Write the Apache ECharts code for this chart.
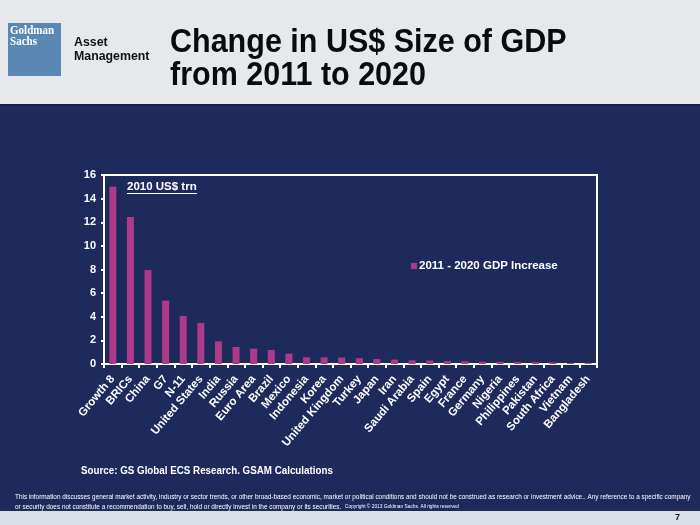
<!DOCTYPE html>
<html><head><meta charset="utf-8">
<script src="https://cdn.jsdelivr.net/npm/echarts@6/dist/echarts.min.js"></script>
<style>html,body{margin:0;padding:0;background:#1e2a5c}#c{width:700px;height:525px}</style>
</head><body><div id="c"></div>
<script>
const categories = ["Growth 8","BRICs","China","G7","N-11","United States","India","Russia","Euro Area","Brazil","Mexico","Indonesia","Korea","United Kingdom","Turkey","Japan","Iran","Saudi Arabia","Spain","Egypt","France","Germany","Nigeria","Philippines","Pakistan","South Africa","Vietnam","Bangladesh"];
const gdpIncrease = [15.0,12.45,7.95,5.37,4.07,3.47,1.92,1.44,1.3,1.19,0.87,0.57,0.56,0.55,0.5,0.42,0.37,0.31,0.3,0.24,0.23,0.19,0.18,0.17,0.16,0.14,0.08,0.07];
const yTicks = {min:0,max:16,interval:2};
const seriesName = "2011 - 2020 GDP Increase";

const chart = echarts.init(document.getElementById('c'));
const F = '"Liberation Sans", Arial, sans-serif';
chart.setOption({
  backgroundColor:'#1e2a5c',
  animation:false,
  textStyle:{fontFamily:F},
  graphic:[
    {type:'rect',shape:{x:0,y:0,width:700,height:104},style:{fill:'#e6e9ec'},z:-10},
    {type:'rect',shape:{x:0,y:104,width:700,height:2},style:{fill:'#16204a'},z:-9},
    {type:'rect',shape:{x:0,y:511,width:700,height:14},style:{fill:'#d9dfe6'},z:-10},
    {type:'rect',shape:{x:8,y:23,width:53,height:53},style:{fill:'#5b87b4'}},
    {type:'text',x:10,y:25,scaleX:0.85,style:{text:'Goldman\nSachs',fill:'#fff',font:'bold 13px "Liberation Serif", serif',lineHeight:11}},
    {type:'text',x:74,y:35,scaleX:0.95,style:{text:'Asset\nManagement',fill:'#111',font:'bold 13px '+F,lineHeight:14}},
    {type:'text',x:170,y:26,scaleY:1.07,style:{text:'Change in US$ Size of GDP\nfrom 2011 to 2020',fill:'#0b0b0b',font:'bold 30.5px '+F,lineHeight:31}},
    {type:'text',left:127,top:181,style:{text:'2010 US$ trn',fill:'#fff',font:'bold 11.5px '+F}},
    {type:'rect',shape:{x:127,y:193,width:70,height:1},style:{fill:'#fff'}},
    {type:'text',x:81,y:465,scaleX:0.89,style:{text:'Source: GS Global ECS Research. GSAM Calculations',fill:'#fff',font:'bold 11px '+F}},
    {type:'text',left:15,top:492,style:{text:'This information discusses general market activity, industry or sector trends, or other broad-based economic, market or political conditions and should not be construed as research or investment advice.. Any reference to a specific company\nor security does not constitute a recommendation to buy, sell, hold or directly invest in the company or its securities.',fill:'#fff',font:'6.4px '+F,lineHeight:10}},
    {type:'text',left:345,top:504,style:{text:'Copyright © 2013 Goldman Sachs. All rights reserved',fill:'#fff',font:'4.8px '+F}},
    {type:'text',left:675,top:513,style:{text:'7',fill:'#111',font:'bold 9px '+F}}
  ],
  legend:{show:true,left:406,top:255,icon:'rect',itemWidth:6,itemHeight:6,itemGap:4,
    textStyle:{color:'#fff',fontWeight:'bold',fontSize:11.5,fontFamily:F,padding:[0,0,0,-3]},data:[seriesName]},
  grid:{left:104,right:103,top:175,bottom:161,show:true,borderColor:'#fff',borderWidth:2,backgroundColor:'transparent'},
  xAxis:{type:'category',data:categories,
    axisLine:{lineStyle:{color:'#fff',width:2}},
    axisTick:{show:true,length:4,lineStyle:{color:'#fff',width:2}},
    axisLabel:{interval:0,rotate:50,color:'#fff',fontWeight:'bold',fontSize:11.5,fontFamily:F,margin:13}},
  yAxis:{type:'value',min:yTicks.min,max:yTicks.max,interval:yTicks.interval,
    axisLine:{show:true,lineStyle:{color:'#fff',width:2}},
    axisTick:{show:true,length:3,lineStyle:{color:'#fff',width:2}},
    splitLine:{show:false},
    axisLabel:{color:'#fff',fontWeight:'bold',fontSize:11,fontFamily:F,margin:8}},
  series:[{name:seriesName,type:'bar',data:gdpIncrease,barWidth:7,itemStyle:{color:'#ad3a8b'}}]
});
</script></body></html>
